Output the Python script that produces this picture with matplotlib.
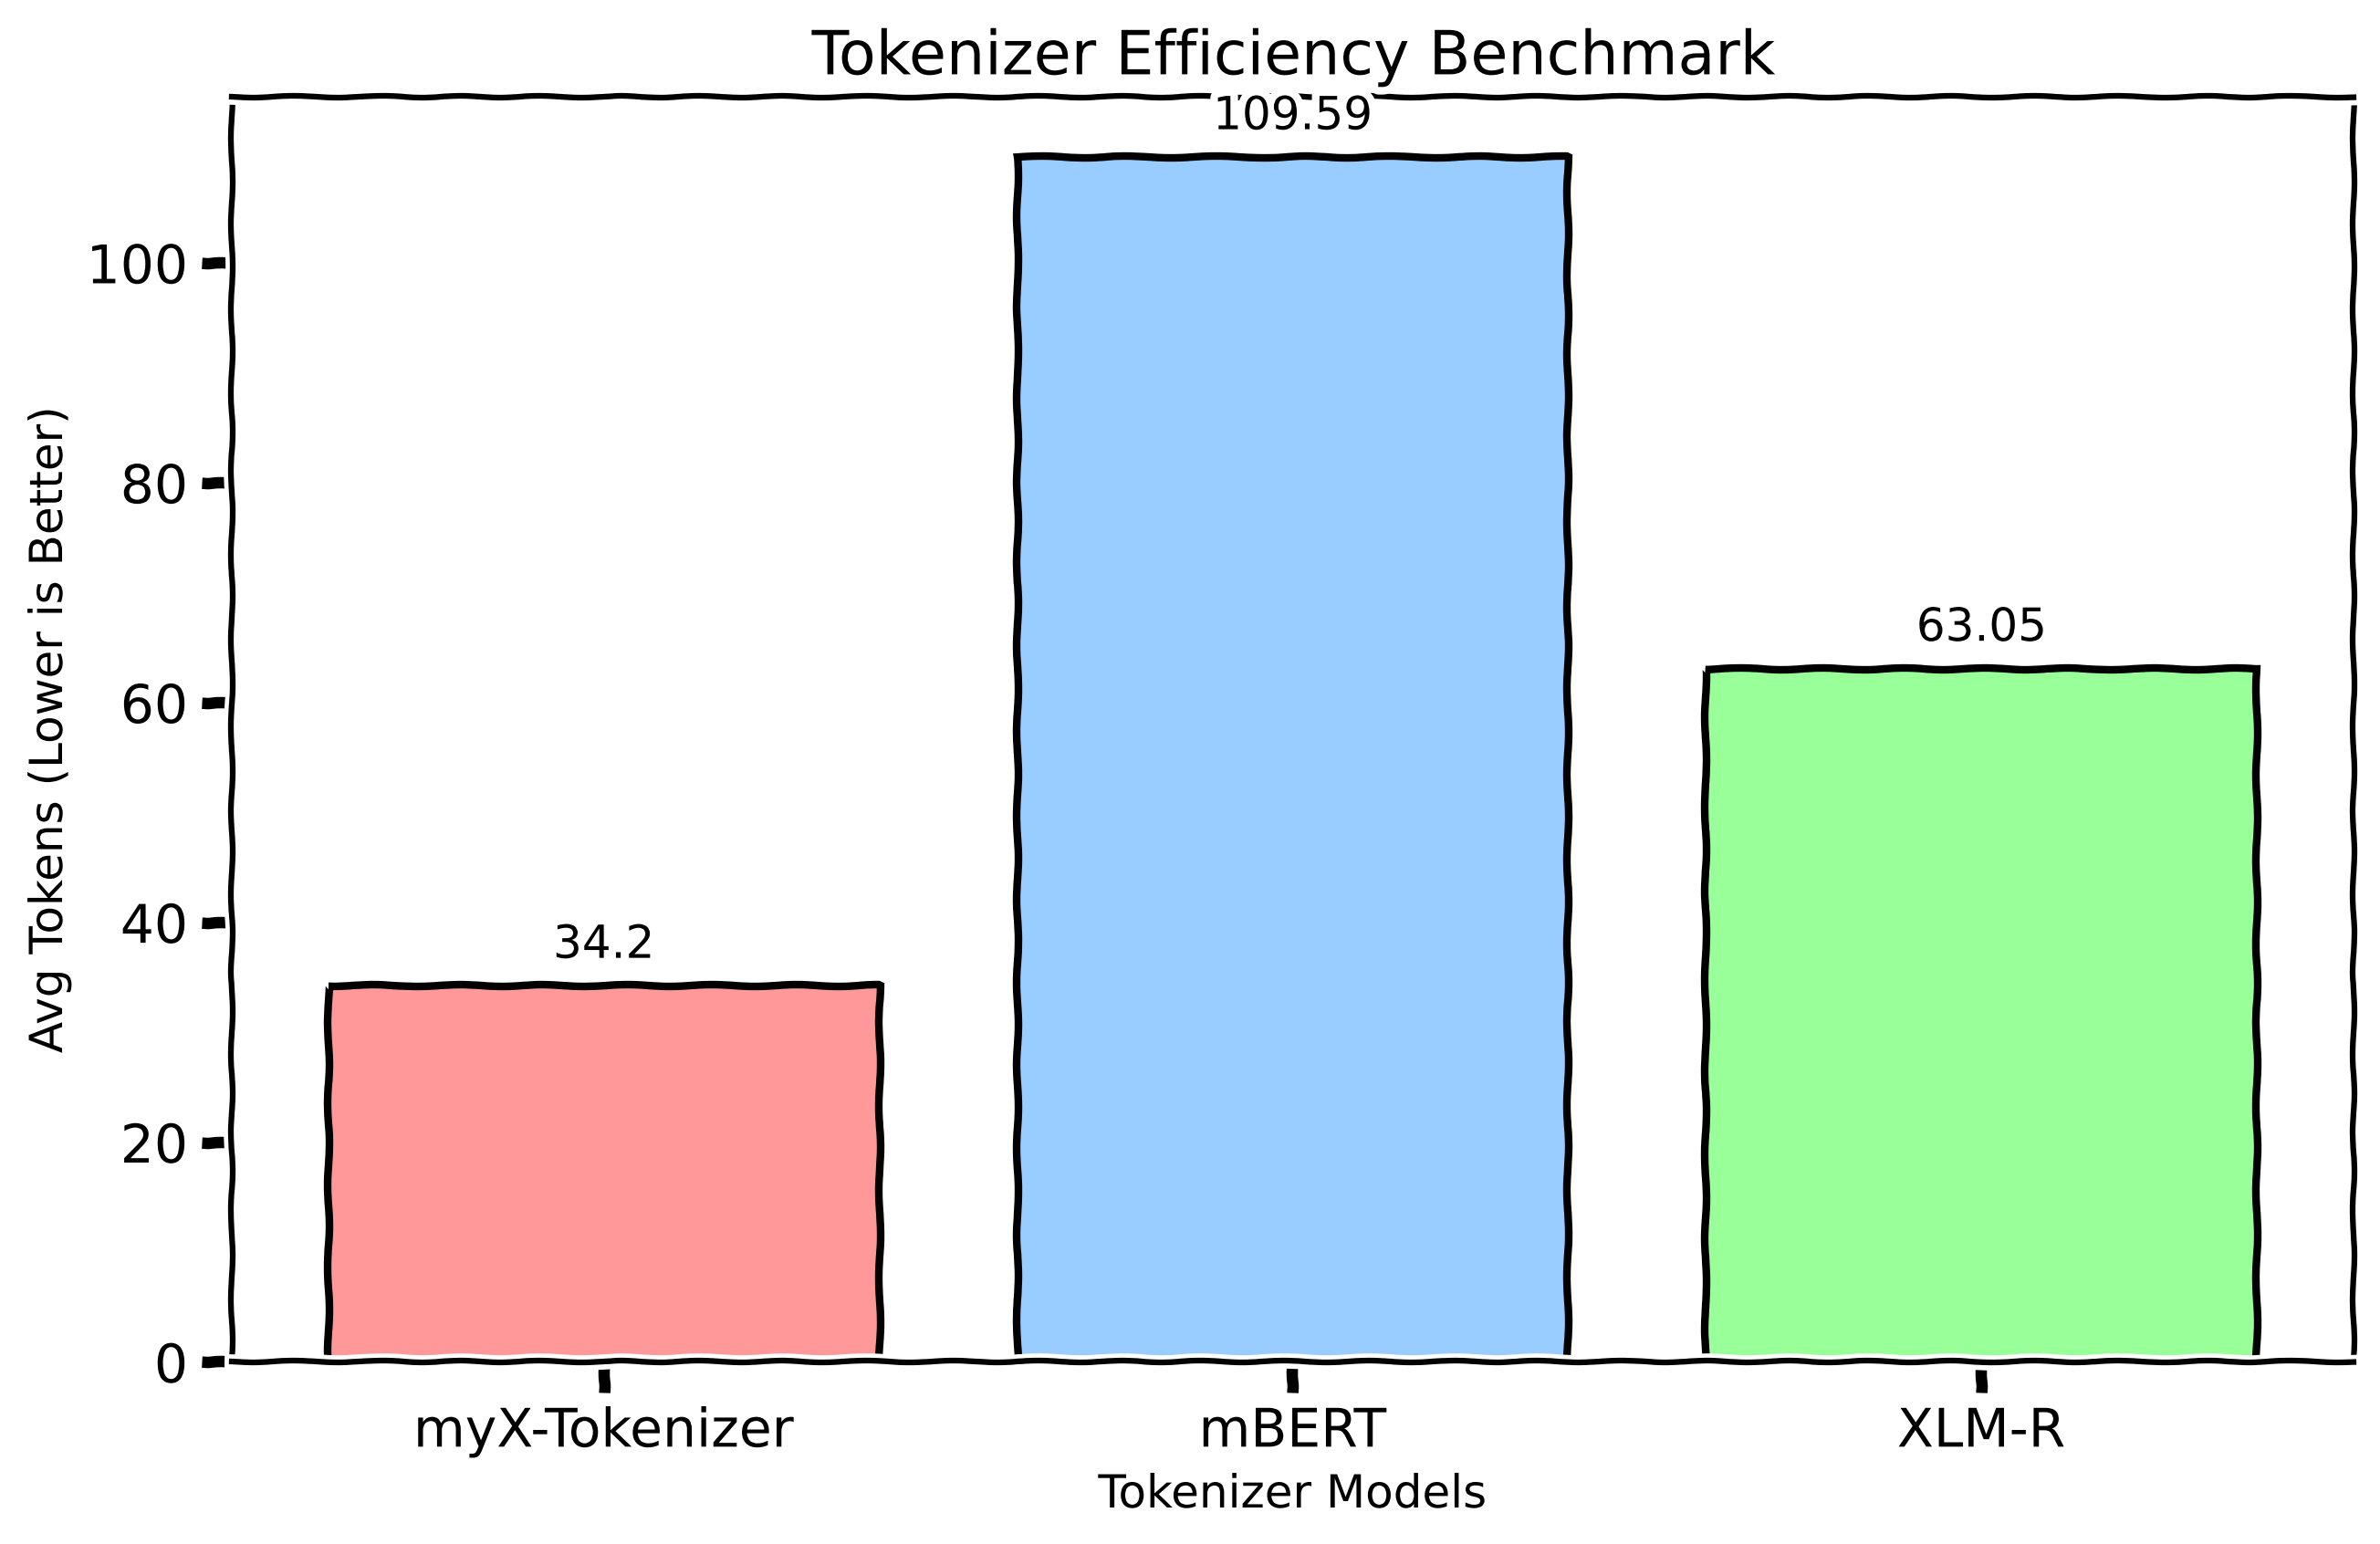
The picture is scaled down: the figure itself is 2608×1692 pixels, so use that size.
#!/usr/bin/env python3
# tokenizer efficiency bar chart, xkcd style

import matplotlib
matplotlib.use('Agg')
import matplotlib.pyplot as plt

Models = ['myX-Tokenizer', 'mBERT', 'XLM-R']
AvgTokens = [34.2, 109.59, 63.05]
Colors = ['#ff9999', '#99ccff', '#99ff99']

with plt.xkcd():
  plt.rcParams['font.family'] = ['DejaVu Sans']
  fig, ax = plt.subplots(figsize=(10, 6))
  Bars = ax.bar(Models, AvgTokens, color=Colors, edgecolor='black', linewidth=2)
  for Bar, Value in zip(Bars, AvgTokens):
    ax.annotate('%s' % Value, (Bar.get_x() + Bar.get_width() / 2, Bar.get_height()),
                xytext=(0, 5), textcoords='offset points', ha='center', va='bottom',
                fontsize=12)
  ax.set_title('Tokenizer Efficiency Benchmark', fontsize=16)
  ax.set_xlabel('Tokenizer Models', fontsize=12)
  ax.set_ylabel('Avg Tokens (Lower is Better)', fontsize=12)
  fig.savefig('out.png', dpi=300, bbox_inches='tight')
